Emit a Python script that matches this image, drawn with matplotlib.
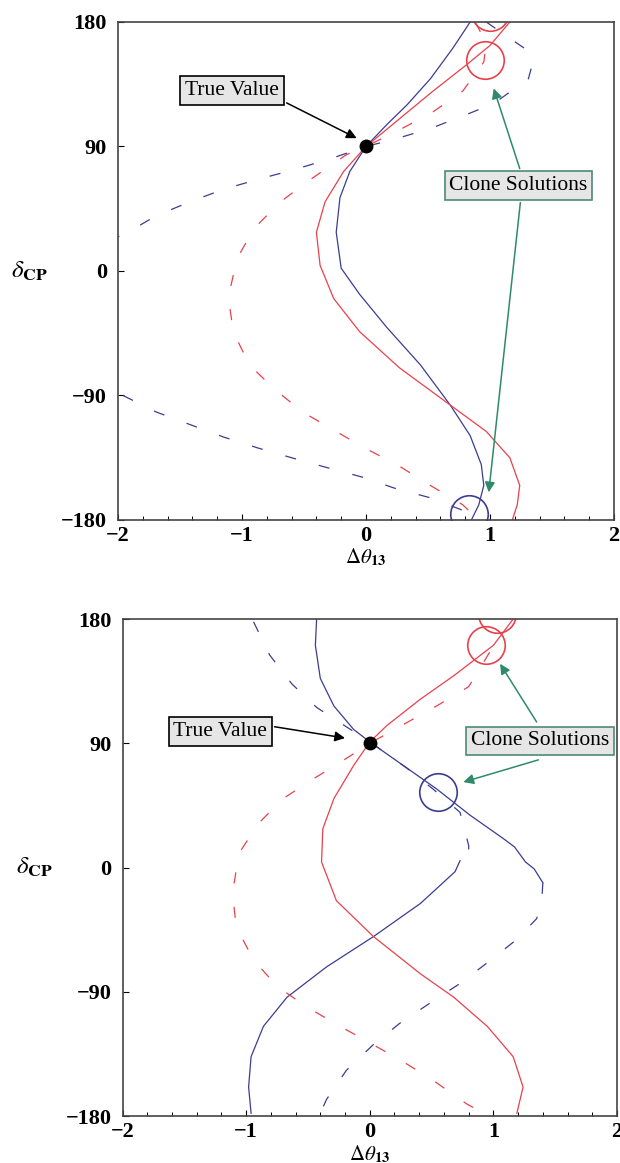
import matplotlib
matplotlib.use('Agg')
import matplotlib.pyplot as plt

plt.rcParams.update({
    'font.family': 'serif',
    'font.serif': ['Liberation Serif', 'DejaVu Serif'],
    'mathtext.fontset': 'stix',
    'lines.scale_dashes': False,
})

BLUE = '#3b3d91'
RED = '#e8414c'
GREEN = '#2f8a6a'
DASH = (8, 17)

# ---------------- upper panel ----------------
# (delta_CP in degrees, delta theta_13)
a_blue_solid_d = [180, 161, 139, 120, 106, 90, 72, 53, 28, 2, -17, -41, -68, -97, -119, -140, -155, -169, -180]
a_blue_solid_x = [0.84, 0.70, 0.52, 0.33, 0.17, 0.0, -0.13, -0.21, -0.24, -0.20, -0.05, 0.17, 0.44, 0.68, 0.84, 0.93, 0.95, 0.91, 0.85]

a_red_solid_d = [180, 163, 149, 130, 110, 90, 72, 50, 28, 4, -20, -44, -70, -95, -116, -135, -155, -169, -180]
a_red_solid_x = [1.16, 1.00, 0.81, 0.54, 0.27, 0.0, -0.18, -0.33, -0.40, -0.37, -0.26, -0.05, 0.27, 0.65, 0.97, 1.16, 1.24, 1.22, 1.18]

a_red_dash_d = [180, 165, 151, 130, 115, 102, 90, 84, 66, 50, 31, 9, -19, -44, -68, -86, -102, -115, -128, -140, -154, -169, -175]
a_red_dash_x = [0.88, 0.97, 0.95, 0.78, 0.54, 0.27, 0.0, -0.16, -0.45, -0.69, -0.90, -1.04, -1.11, -1.07, -0.94, -0.73, -0.51, -0.26, -0.01, 0.25, 0.50, 0.78, 0.85]

a_blue_dash_up_d = [180, 175, 159, 149, 139, 121, 112, 103, 95, 90, 81, 73, 66, 59, 50, 40, 27, 24]
a_blue_dash_up_x = [0.97, 1.05, 1.31, 1.34, 1.31, 1.03, 0.78, 0.52, 0.22, 0.0, -0.29, -0.59, -0.88, -1.15, -1.42, -1.69, -1.94, -2.02]

a_blue_dash_lo_d = [-90, -102, -111, -120, -128, -135, -142, -149, -157, -164, -173, -177]
a_blue_dash_lo_x = [-1.96, -1.69, -1.42, -1.15, -0.87, -0.60, -0.32, -0.03, 0.23, 0.52, 0.78, 0.85]

a_red_circles = [(0.96, 152.6), (1.00, 187)]
a_blue_circles = [(0.83, -176)]

# ---------------- lower panel ----------------
b_blue_solid1_d = [180, 161, 137, 117, 100, 91, 74, 57, 38, 21, 15, 4, -1, -11]
b_blue_solid1_x = [-0.43, -0.44, -0.40, -0.29, -0.13, 0.0, 0.27, 0.54, 0.81, 1.08, 1.17, 1.26, 1.33, 1.40]

b_blue_dash1_d = [-11, -26, -37, -52, -69, -84, -98, -113, -129, -147, -168, -174]
b_blue_dash1_x = [1.40, 1.39, 1.35, 1.19, 0.95, 0.73, 0.49, 0.24, 0.02, -0.19, -0.35, -0.38]

b_blue_dash2_d = [178, 154, 133, 116, 102, 91, 72, 57, 40, 16, 10]
b_blue_dash2_x = [-0.94, -0.81, -0.63, -0.43, -0.19, 0.0, 0.30, 0.51, 0.73, 0.80, 0.80]

b_blue_solid2_d = [5, -3, -26, -50, -72, -94, -115, -137, -159, -178]
b_blue_solid2_x = [0.73, 0.69, 0.41, 0.03, -0.35, -0.67, -0.86, -0.96, -0.98, -0.96]

b_red_solid_d = [180, 161, 139, 122, 103, 91, 74, 50, 28, 4, -24, -50, -77, -94, -115, -137, -159, -178]
b_red_solid_x = [1.16, 1.00, 0.68, 0.41, 0.14, 0.0, -0.13, -0.29, -0.38, -0.39, -0.27, 0.03, 0.41, 0.68, 0.95, 1.16, 1.24, 1.19]

b_red_dash_d = [156, 131, 117, 105, 90, 79, 64, 50, 32, 10, -19, -43, -67, -86, -101, -115, -127, -139, -154, -171, -174]
b_red_dash_x = [0.97, 0.80, 0.54, 0.30, 0.0, -0.19, -0.46, -0.70, -0.90, -1.06, -1.11, -1.08, -0.94, -0.75, -0.51, -0.24, 0.0, 0.24, 0.51, 0.78, 0.84]

b_red_circles = [(0.94, 161), (1.03, 184)]
b_blue_circles = [(0.55, 54.7)]

true_value = (0.0, 90.0)

yticks = [180, 90, 0, -90, -180]
ytick_labels = ['180', '90', '0', '\u221290', '\u2212180']
xticks = [-2, -1, 0, 1, 2]
xtick_labels = ['\u22122', '\u22121', '0', '1', '2']


def style_axes(ax, xlab_y):
    ax.set_xlim(-2, 2)
    ax.set_ylim(-180, 180)
    ax.set_xticks(xticks)
    ax.set_xticklabels(xtick_labels, fontweight='bold', fontsize=16)
    ax.set_yticks(yticks)
    ax.set_yticklabels(ytick_labels, fontweight='bold', fontsize=16)
    ax.set_xticks([v / 10 for v in range(-20, 21, 2)], minor=True)
    ax.tick_params(direction='in', length=4, width=0.8, top=False, right=False)
    ax.tick_params(axis='x', which='minor', direction='in', length=3, width=0.7)
    ax.tick_params(axis='x', pad=4)
    ax.tick_params(axis='y', pad=8)
    for s in ax.spines.values():
        s.set_color('#444444')
        s.set_linewidth(1.2)
    ax.text(-0.178, 0.5, r'$\delta_{\mathbf{CP}}$', transform=ax.transAxes,
            ha='center', va='center', fontsize=18)
    ax.text(0.5, xlab_y, r'$\Delta\theta_{\mathbf{13}}$', transform=ax.transAxes,
            ha='center', va='center', fontsize=15)


def solid(ax, d, x, c):
    ax.plot(x, d, '-', color=c, lw=0.9)


def dashed(ax, d, x, c):
    ax.plot(x, d, '-', color=c, lw=0.9, dashes=DASH)


def circles(ax, pts, c):
    for x, d in pts:
        ax.plot([x], [d], 'o', ms=27, mfc='none', mec=c, mew=1.2)


def box(ax, x, y, text, ec):
    ax.text(x, y, text, ha='center', va='center', fontsize=15.5, zorder=5,
            bbox=dict(boxstyle='square,pad=0.22', fc='#e6e6e6', ec=ec, lw=1.2))


def arrow(ax, start, tip, c):
    ax.annotate('', xy=tip, xytext=start, zorder=6,
                arrowprops=dict(arrowstyle='-|>', color=c, lw=1.1,
                                mutation_scale=15, shrinkA=0, shrinkB=0))


fig = plt.figure(figsize=(6.2, 11.63), dpi=100)

# ── upper panel ──
ax1 = fig.add_axes([0.1903, 0.5529, 0.800, 0.4282])
solid(ax1, a_blue_solid_d, a_blue_solid_x, BLUE)
solid(ax1, a_red_solid_d, a_red_solid_x, RED)
dashed(ax1, a_red_dash_d, a_red_dash_x, RED)
dashed(ax1, a_blue_dash_up_d, a_blue_dash_up_x, BLUE)
dashed(ax1, a_blue_dash_lo_d, a_blue_dash_lo_x, BLUE)
circles(ax1, a_red_circles, RED)
circles(ax1, a_blue_circles, BLUE)
ax1.plot(*true_value, 'o', color='black', ms=9, zorder=7)
box(ax1, -1.08, 130.5, 'True Value', 'black')
arrow(ax1, (-0.64, 121.5), (-0.075, 96), 'black')
box(ax1, 1.23, 61.8, 'Clone Solutions', '#4f8a74')
arrow(ax1, (1.24, 74), (1.03, 132), GREEN)
arrow(ax1, (1.245, 49.5), (0.99, -160), GREEN)
style_axes(ax1, -0.075)

# ── lower panel ──
ax2 = fig.add_axes([0.1976, 0.0404, 0.7976, 0.4273])
solid(ax2, b_blue_solid1_d, b_blue_solid1_x, BLUE)
solid(ax2, b_blue_solid2_d, b_blue_solid2_x, BLUE)
dashed(ax2, b_blue_dash1_d, b_blue_dash1_x, BLUE)
dashed(ax2, b_blue_dash2_d, b_blue_dash2_x, BLUE)
solid(ax2, b_red_solid_d, b_red_solid_x, RED)
dashed(ax2, b_red_dash_d, b_red_dash_x, RED)
circles(ax2, b_red_circles, RED)
circles(ax2, b_blue_circles, BLUE)
ax2.plot(*true_value, 'o', color='black', ms=9, zorder=7)
box(ax2, -1.21, 98.6, 'True Value', 'black')
arrow(ax2, (-0.77, 102), (-0.20, 93.8), 'black')
box(ax2, 1.376, 91.7, 'Clone Solutions', '#4f8a74')
arrow(ax2, (1.35, 105.4), (1.054, 147.6), GREEN)
arrow(ax2, (1.364, 78), (0.757, 61.9), GREEN)
style_axes(ax2, -0.077)

fig.savefig('out.png', dpi=100)
